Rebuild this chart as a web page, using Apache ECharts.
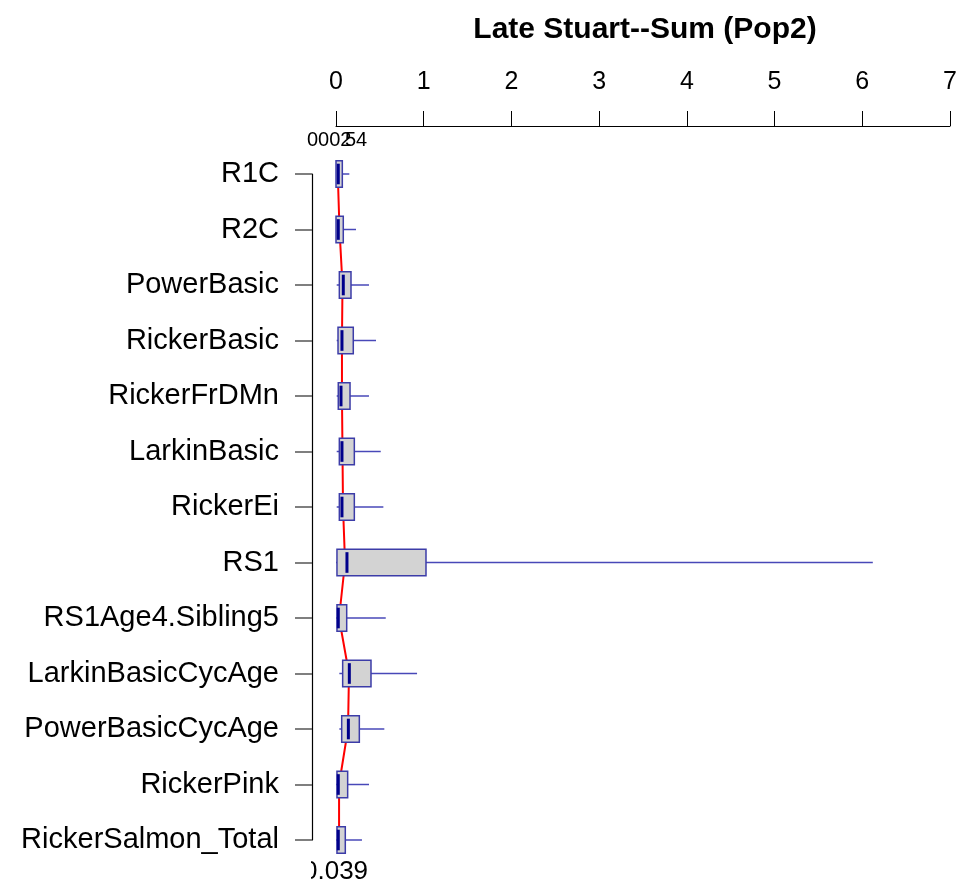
<!DOCTYPE html>
<html>
<head>
<meta charset="utf-8">
<script src="https://cdn.jsdelivr.net/npm/echarts@6/dist/echarts.min.js"></script>
<style>html,body{margin:0;padding:0;background:#fff}#c{width:961px;height:888px}</style>
</head>
<body>
<div id="c"></div>
<script>
const categories = ['R1C','R2C','PowerBasic','RickerBasic','RickerFrDMn','LarkinBasic','RickerEi','RS1','RS1Age4.Sibling5','LarkinBasicCycAge','PowerBasicCycAge','RickerPink','RickerSalmon_Total'];
const whiskerLow  = [0.0, 0.0, 0.008, 0.008, 0.008, 0.008, 0.008, 0.0, 0.0, 0.038, 0.038, 0.0, 0.0];
const q1          = [0.0, 0.0, 0.038, 0.023, 0.026, 0.038, 0.038, 0.011, 0.011, 0.076, 0.065, 0.011, 0.011];
const median      = [0.026, 0.026, 0.083, 0.068, 0.057, 0.068, 0.068, 0.125, 0.026, 0.152, 0.141, 0.026, 0.026];
const q3          = [0.072, 0.083, 0.171, 0.197, 0.160, 0.209, 0.209, 1.026, 0.122, 0.399, 0.266, 0.133, 0.106];
const whiskerHigh = [0.152, 0.228, 0.376, 0.456, 0.376, 0.51, 0.54, 6.12, 0.567, 0.924, 0.551, 0.376, 0.296];
const redLine     = [0.02, 0.04, 0.074, 0.068, 0.068, 0.074, 0.08, 0.103, 0.035, 0.148, 0.137, 0.035, 0.035];
const xTicks = [0, 1, 2, 3, 4, 5, 6, 7];
const titleText = 'Late Stuart--Sum (Pop2)';
const topNote = ['0002', '54'];
const bottomNote = '0.039';

const FONT = 'Arial, "Liberation Sans", sans-serif';
const boxData = categories.map((c, i) => [i, whiskerLow[i], q1[i], median[i], q3[i], whiskerHigh[i]]);

const chart = echarts.init(document.getElementById('c'));
chart.setOption({
  animation: false,
  backgroundColor: '#fff',
  title: {
    text: titleText, left: 640, top: 10, textAlign: 'center',
    textStyle: { fontFamily: FONT, fontSize: 30, fontWeight: 'bold', color: '#000' }
  },
  grid: { left: 336, right: 11, top: 174, bottom: 48 },
  xAxis: {
    type: 'value', position: 'top', offset: 48,
    min: xTicks[0], max: xTicks[xTicks.length - 1], interval: 1,
    axisLine: { show: true, onZero: false, lineStyle: { color: '#000', width: 1 } },
    axisTick: { show: true, length: 15, lineStyle: { color: '#000' } },
    axisLabel: { margin: 31, fontFamily: FONT, fontSize: 25, color: '#000' },
    splitLine: { show: false }
  },
  yAxis: {
    type: 'category', data: categories, inverse: true, boundaryGap: false, offset: 24,
    axisLine: { show: true, onZero: false, lineStyle: { color: '#000', width: 1.2 } },
    axisTick: { show: true, length: 17, lineStyle: { color: '#555', width: 1.5 } },
    axisLabel: { margin: 33, fontFamily: FONT, fontSize: 29, color: '#000', padding: [3, 0, 0, 0] },
    splitLine: { show: false }
  },
  series: [
    {
      type: 'line', data: redLine.map((v, i) => [v, i]), symbol: 'none', z: 1,
      lineStyle: { color: '#ff0000', width: 2 }
    },
    {
      type: 'custom', z: 3, data: boxData,
      encode: { x: [1, 2, 3, 4, 5], y: 0 },
      renderItem: function (params, api) {
        const idx = api.value(0);
        const pLo = api.coord([api.value(1), idx]);
        const p1 = api.coord([api.value(2), idx]);
        const pm = api.coord([api.value(3), idx]);
        const p3 = api.coord([api.value(4), idx]);
        const pHi = api.coord([api.value(5), idx]);
        const band = api.size([0, 1])[1];
        const h = band * 0.24;
        const y = p1[1];
        return {
          type: 'group',
          children: [
            { type: 'line', shape: { x1: pLo[0], y1: y, x2: p1[0], y2: y }, style: { stroke: '#4848b8', lineWidth: 1.5 } },
            { type: 'line', shape: { x1: p3[0], y1: y, x2: pHi[0], y2: y }, style: { stroke: '#4848b8', lineWidth: 1.5 } },
            { type: 'rect', shape: { x: p1[0], y: y - h, width: Math.max(p3[0] - p1[0], 1), height: 2 * h }, style: { fill: '#d3d3d3', stroke: '#3c3ca8', lineWidth: 1.5 } },
            { type: 'line', shape: { x1: pm[0], y1: y - h + 3, x2: pm[0], y2: y + h - 3 }, style: { stroke: '#00008b', lineWidth: 3 } }
          ]
        };
      }
    }
  ],
  graphic: [
    { type: 'text', left: 307, top: 130, style: { text: topNote[0], font: '20px ' + FONT, fill: '#000' } },
    { type: 'text', left: 345, top: 130, style: { text: topNote[1], font: '20px ' + FONT, fill: '#000' } },
    { type: 'text', left: 303, top: 859, style: { text: bottomNote, font: '26px ' + FONT, fill: '#000' } },
    { type: 'rect', shape: { x: 290, y: 856, width: 21, height: 32 }, style: { fill: '#fff' }, z: 100 }
  ]
});
</script>
</body>
</html>
